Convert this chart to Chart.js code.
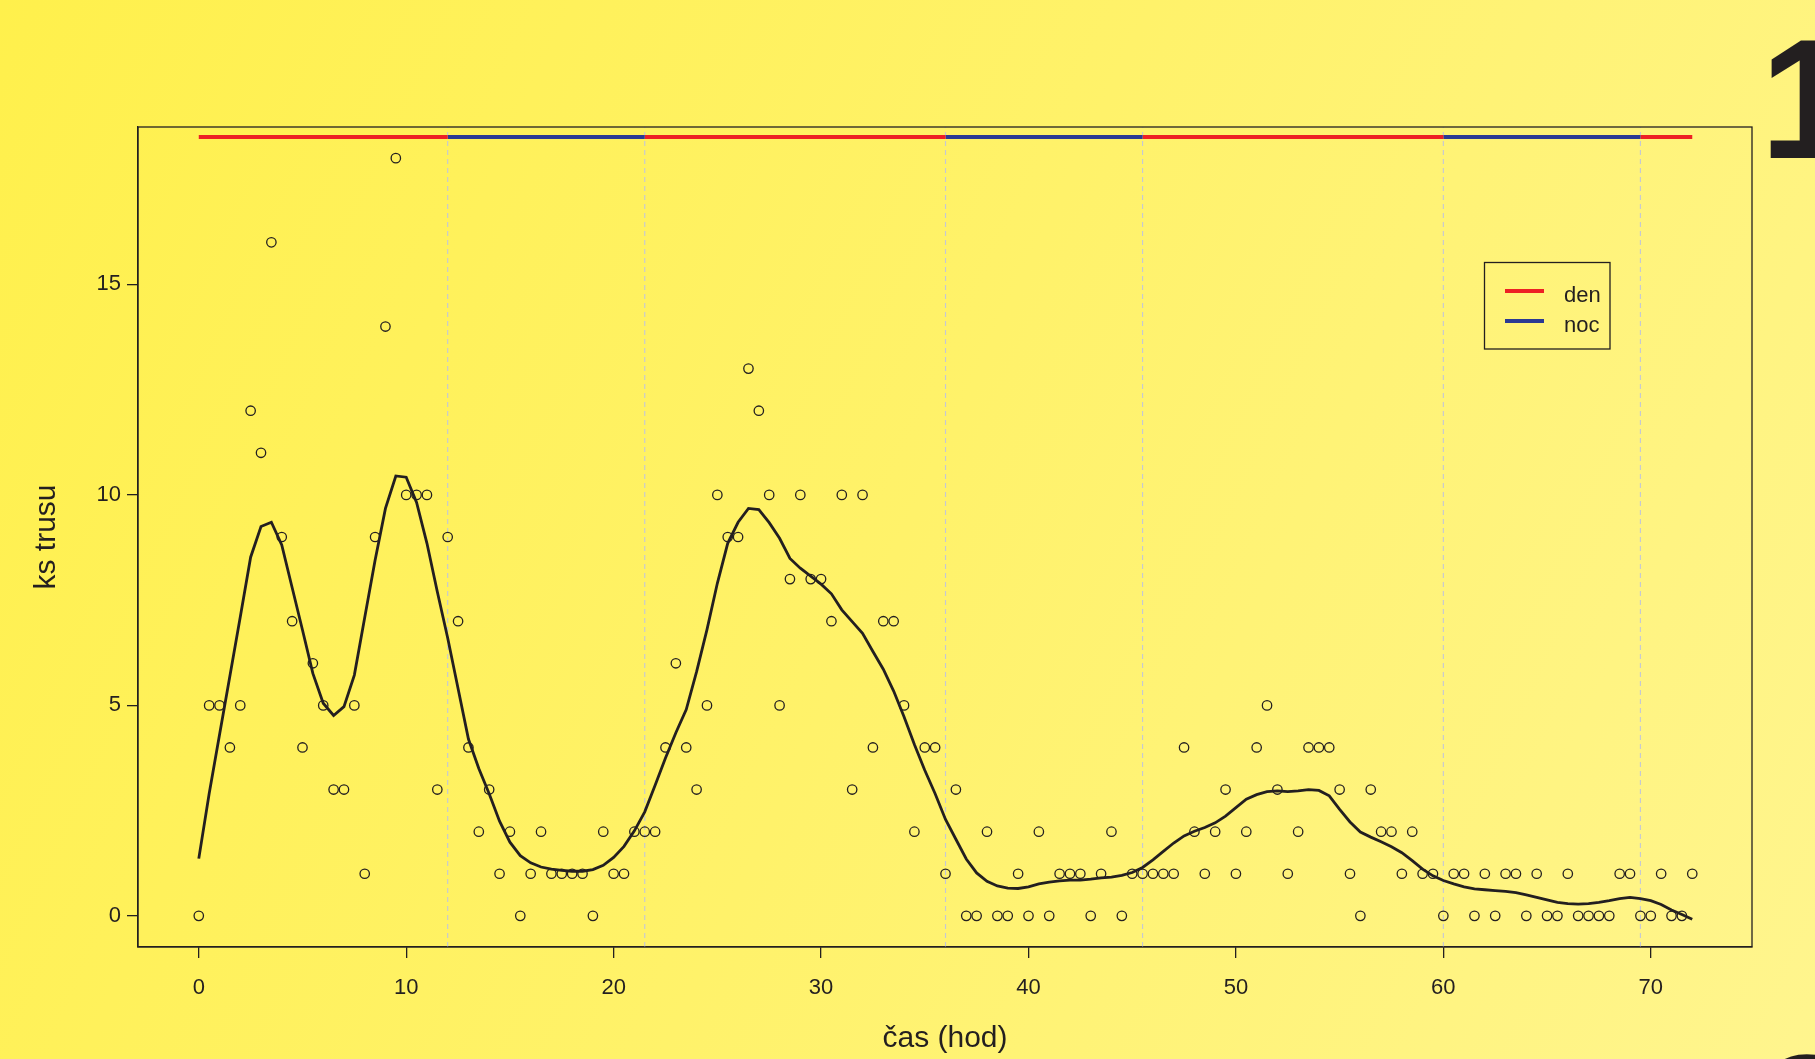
<!DOCTYPE html>
<html>
<head>
<meta charset="utf-8">
<script src="https://cdn.jsdelivr.net/npm/chart.js@4.4.1/dist/chart.umd.min.js"></script>
<style>
html, body { margin: 0; padding: 0; }
body {
    width: 1815px; height: 1059px; overflow: hidden; position: relative;
    background: linear-gradient(115deg, #fff04c 0%, #fff26a 50%, #fff58e 100%);
    font-family: 'Liberation Sans', Arial, sans-serif;
}
#wrap { position: absolute; left: 0; top: 0; width: 1815px; height: 1059px; }
.slideNum { position: absolute; left: 1760px; font-weight: bold; font-size: 170px; line-height: 1; color: #231f20; }
</style>
</head>
<body>
<div id="wrap"><canvas id="trusGraph" width="1815" height="1059"></canvas></div>
<div class="slideNum" style="top:14px">1</div>
<div class="slideNum" style="top:1030px">2</div>
<script>
// sampling times (hod), every half hour
var hours = [
    0, 0.5, 1, 1.5, 2, 2.5, 3, 3.5, 4, 4.5,
    5, 5.5, 6, 6.5, 7, 7.5, 8, 8.5, 9, 9.5,
    10, 10.5, 11, 11.5, 12, 12.5, 13, 13.5, 14, 14.5,
    15, 15.5, 16, 16.5, 17, 17.5, 18, 18.5, 19, 19.5,
    20, 20.5, 21, 21.5, 22, 22.5, 23, 23.5, 24, 24.5,
    25, 25.5, 26, 26.5, 27, 27.5, 28, 28.5, 29, 29.5,
    30, 30.5, 31, 31.5, 32, 32.5, 33, 33.5, 34, 34.5,
    35, 35.5, 36, 36.5, 37, 37.5, 38, 38.5, 39, 39.5,
    40, 40.5, 41, 41.5, 42, 42.5, 43, 43.5, 44, 44.5,
    45, 45.5, 46, 46.5, 47, 47.5, 48, 48.5, 49, 49.5,
    50, 50.5, 51, 51.5, 52, 52.5, 53, 53.5, 54, 54.5,
    55, 55.5, 56, 56.5, 57, 57.5, 58, 58.5, 59, 59.5,
    60, 60.5, 61, 61.5, 62, 62.5, 63, 63.5, 64, 64.5,
    65, 65.5, 66, 66.5, 67, 67.5, 68, 68.5, 69, 69.5,
    70, 70.5, 71, 71.5, 72
];
// ks trusu per sample
var trusCounts = [
    0, 5, 5, 4, 5, 12, 11, 16, 9, 7,
    4, 6, 5, 3, 3, 5, 1, 9, 14, 18,
    10, 10, 10, 3, 9, 7, 4, 2, 3, 1,
    2, 0, 1, 2, 1, 1, 1, 1, 0, 2,
    1, 1, 2, 2, 2, 4, 6, 4, 3, 5,
    10, 9, 9, 13, 12, 10, 5, 8, 10, 8,
    8, 7, 10, 3, 10, 4, 7, 7, 5, 2,
    4, 4, 1, 3, 0, 0, 2, 0, 0, 1,
    0, 2, 0, 1, 1, 1, 0, 1, 2, 0,
    1, 1, 1, 1, 1, 4, 2, 1, 2, 3,
    1, 2, 4, 5, 3, 1, 2, 4, 4, 4,
    3, 1, 0, 3, 2, 2, 1, 2, 1, 1,
    0, 1, 1, 0, 1, 0, 1, 1, 0, 1,
    0, 0, 1, 0, 0, 0, 0, 1, 1, 0,
    0, 1, 0, 0, 1
];
// smoothed curve
var trusSmooth = [
    1.36, 2.9, 4.3, 5.7, 7.1, 8.52, 9.25, 9.35, 8.81, 7.8,
    6.79, 5.76, 5.05, 4.76, 4.97, 5.72, 7.09, 8.45, 9.68, 10.45,
    10.42, 9.82, 8.85, 7.7, 6.6, 5.4, 4.2, 3.5, 2.9, 2.25,
    1.75, 1.43, 1.26, 1.16, 1.11, 1.08, 1.06, 1.06, 1.1, 1.2,
    1.39, 1.65, 2.02, 2.47, 3.1, 3.75, 4.35, 4.9, 5.8, 6.8,
    7.9, 8.85, 9.35, 9.68, 9.65, 9.34, 8.97, 8.49, 8.26, 8.07,
    7.88, 7.65, 7.27, 6.99, 6.71, 6.28, 5.86, 5.34, 4.73, 4.07,
    3.46, 2.9, 2.29, 1.82, 1.35, 1.02, 0.82, 0.71, 0.66, 0.65,
    0.69, 0.76, 0.8, 0.83, 0.85, 0.85, 0.87, 0.9, 0.92, 0.96,
    1.03, 1.15, 1.33, 1.53, 1.73, 1.9, 2.01, 2.1, 2.21, 2.37,
    2.57, 2.77, 2.88, 2.95, 2.97, 2.95, 2.97, 3.0, 2.98, 2.85,
    2.53, 2.23, 1.99, 1.87, 1.76, 1.64, 1.5, 1.31, 1.11, 0.95,
    0.84, 0.76, 0.69, 0.64, 0.62, 0.6, 0.58, 0.55, 0.5, 0.44,
    0.38, 0.32, 0.29, 0.28, 0.29, 0.32, 0.36, 0.41, 0.44, 0.41,
    0.36, 0.27, 0.14, 0.03, -0.08
];
// den / noc periods
var phaseBreaks = [0, 12, 21.5, 36, 45.5, 60, 69.5, 72];
var phaseNames = ['den', 'noc', 'den', 'noc', 'den', 'noc', 'den'];
var phaseLevel = 18.5;
var legendNames = ['den', 'noc'];

var xTicks = [0, 10, 20, 30, 40, 50, 60, 70];
var yTicks = [0, 5, 10, 15];
var xLimits = [-2.93, 74.88];
var yLimits = [-0.74, 18.74];

var ink = '#231f20';
var phaseColor = { den: '#ed2024', noc: '#2b3a93' };
var fontFamily = "'Liberation Sans', Arial, Helvetica, sans-serif";

var datasets = [];

// dashed separators between den and noc
phaseBreaks.slice(1, -1).forEach(function(b) {
    datasets.push({
        data: [{x: b, y: yLimits[0]}, {x: b, y: yLimits[1]}],
        showLine: true,
        borderColor: '#c4c7d6',
        borderWidth: 1.1,
        borderDash: [5, 4],
        pointRadius: 0,
        order: 5
    });
});

// coloured bar on top
phaseNames.forEach(function(name, i) {
    datasets.push({
        data: [{x: phaseBreaks[i], y: phaseLevel}, {x: phaseBreaks[i + 1], y: phaseLevel}],
        showLine: true,
        borderColor: phaseColor[name],
        borderWidth: 4,
        borderCapStyle: 'butt',
        pointRadius: 0,
        order: 4
    });
});

datasets.push({
    label: 'ks trusu',
    data: hours.map(function(h, i) { return {x: h, y: trusCounts[i]}; }),
    showLine: false,
    pointStyle: 'circle',
    pointRadius: 4.7,
    pointHoverRadius: 4.7,
    pointBorderWidth: 1.3,
    pointBackgroundColor: 'rgba(0,0,0,0)',
    pointBorderColor: ink,
    order: 2
});

datasets.push({
    label: 'smooth',
    data: hours.map(function(h, i) { return {x: h, y: trusSmooth[i]}; }),
    showLine: true,
    borderColor: ink,
    borderWidth: 2.8,
    tension: 0,
    pointRadius: 0,
    order: 1
});

var frameAndLegend = {
    id: 'frameAndLegend',
    afterDatasetsDraw: function(chart) {
        var ctx = chart.ctx;
        var a = chart.chartArea;
        ctx.save();
        ctx.strokeStyle = ink;
        ctx.lineWidth = 1.3;
        ctx.strokeRect(a.left, a.top, a.right - a.left, a.bottom - a.top);

        // legend box
        ctx.strokeRect(1484.5, 262.5, 125.5, 86.5);
        ctx.font = '22px ' + fontFamily;
        ctx.textBaseline = 'alphabetic';
        ctx.textAlign = 'left';
        legendNames.forEach(function(name, i) {
            var y = 291 + i * 30;
            ctx.strokeStyle = phaseColor[name];
            ctx.lineWidth = 4;
            ctx.beginPath();
            ctx.moveTo(1505, y);
            ctx.lineTo(1544, y);
            ctx.stroke();
            ctx.fillStyle = ink;
            ctx.fillText(name, 1564, y + 10.5);
        });
        ctx.restore();
    }
};

Chart.defaults.font.family = fontFamily;

var trusChart = new Chart(document.getElementById('trusGraph'), {
    type: 'scatter',
    data: {datasets: datasets},
    options: {
        responsive: false,
        animation: false,
        events: [],
        layout: {padding: {top: 127, right: 63, bottom: 0, left: 0}},
        plugins: {
            legend: {display: false},
            tooltip: {enabled: false}
        },
        scales: {
            x: {
                type: 'linear',
                position: 'bottom',
                min: xLimits[0],
                max: xLimits[1],
                afterBuildTicks: function(s) { s.ticks = xTicks.map(function(v) { return {value: v}; }); },
                afterFit: function(s) { s.height = 112; },
                ticks: {font: {size: 22}, color: ink, padding: 17, maxRotation: 0, autoSkip: false},
                grid: {drawOnChartArea: false, drawTicks: true, tickLength: 11, color: ink, lineWidth: 1.3},
                border: {display: true, color: ink, width: 1.3},
                title: {display: true, text: 'čas (hod)', font: {size: 30}, color: ink, padding: {top: 0, bottom: 2}}
            },
            y: {
                type: 'linear',
                min: yLimits[0],
                max: yLimits[1],
                afterBuildTicks: function(s) { s.ticks = yTicks.map(function(v) { return {value: v}; }); },
                afterFit: function(s) { s.width = 138; },
                ticks: {font: {size: 22}, color: ink, padding: 6},
                grid: {drawOnChartArea: false, drawTicks: true, tickLength: 11, color: ink, lineWidth: 1.3},
                border: {display: true, color: ink, width: 1.3},
                title: {display: true, text: 'ks trusu', font: {size: 30}, color: ink, padding: {top: 29, bottom: 0}}
            }
        }
    },
    plugins: [frameAndLegend]
});
</script>
</body>
</html>
